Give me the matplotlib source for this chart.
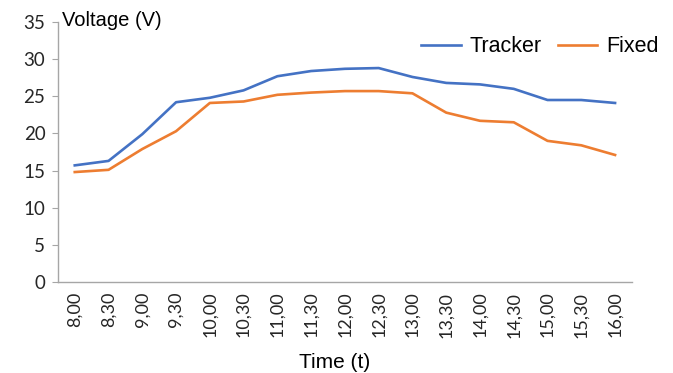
import matplotlib
matplotlib.use("Agg")
import matplotlib.pyplot as plt

# half-hour readings from 8,00 to 16,00
times = ["8,00", "8,30", "9,00", "9,30", "10,00", "10,30", "11,00", "11,30",
         "12,00", "12,30", "13,00", "13,30", "14,00", "14,30", "15,00", "15,30", "16,00"]
tracker = [15.7, 16.3, 19.9, 24.2, 24.8, 25.8, 27.7, 28.4,
           28.7, 28.8, 27.6, 26.8, 26.6, 26.0, 24.5, 24.5, 24.1]
fixed = [14.8, 15.1, 17.9, 20.3, 24.1, 24.3, 25.2, 25.5,
         25.7, 25.7, 25.4, 22.8, 21.7, 21.5, 19.0, 18.4, 17.1]

fig = plt.figure(figsize=(6.73, 3.73), dpi=100)
ax = fig.add_axes([0.086, 0.244, 0.853, 0.697])

x = range(len(times))
ax.plot(x, tracker, color="#4472C4", lw=1.9, label="Tracker")
ax.plot(x, fixed, color="#ED7D31", lw=1.9, label="Fixed")

ax.set_xlim(-0.5, len(times) - 0.5)
ax.set_ylim(0, 35)
ax.set_yticks(range(0, 36, 5))
ax.set_xticks(list(x))
ax.set_xticklabels(times, rotation=90)

for side in ["top", "right"]:
    ax.spines[side].set_visible(False)
for side in ["left", "bottom"]:
    ax.spines[side].set_color("#A6A6A6")
    ax.spines[side].set_linewidth(1.0)

ax.tick_params(axis="y", length=4, color="#A6A6A6", labelsize=13.5, pad=5)
ax.tick_params(axis="x", length=0, labelsize=13, pad=7)
for lab in ax.get_xticklabels() + ax.get_yticklabels():
    lab.set_fontfamily("Lato")
    lab.set_color("#262626")

fig.text(0.092, 0.945, "Voltage (V)", fontsize=14.5, family="Liberation Sans", va="center")
fig.text(0.497, 0.028, "Time (t)", fontsize=15, family="Liberation Sans", ha="center", va="center")

leg = ax.legend(loc="upper right", bbox_to_anchor=(1.08, 1.02), ncol=2, frameon=False,
                prop={"family": "Liberation Sans", "size": 15.5},
                handlelength=1.85, columnspacing=0.75, handletextpad=0.4)

fig.savefig("out.png", dpi=100)
